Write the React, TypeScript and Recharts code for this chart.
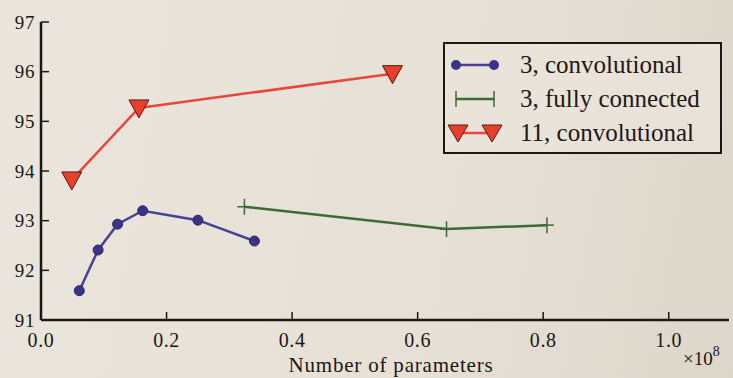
import React from "react";
import { LineChart, Line, XAxis, YAxis, Label } from "recharts";

// values (x in units of 1e8 parameters, y = test accuracy %)
const conv3X = [0.061, 0.091, 0.122, 0.162, 0.25, 0.34];
const conv3Y = [91.59, 92.41, 92.93, 93.2, 93.01, 92.59];
const fc3X = [0.324, 0.646, 0.806];
const fc3Y = [93.28, 92.83, 92.91];
const conv11X = [0.049, 0.156, 0.56];
const conv11Y = [93.82, 95.27, 95.96];

const xTicks = [0, 0.2, 0.4, 0.6, 0.8, 1.0];
const yTicks = [91, 92, 93, 94, 95, 96, 97];
const seriesNames = ["3, convolutional", "3, fully connected", "11, convolutional"];

const toPoints = (xs: number[], ys: number[]) => xs.map((x, i) => ({ x, y: ys[i] }));

const INK = "#1c1816";
const BLUE = "#4a4196";
const GREEN = "#3e6a3a";
const RED = "#e8473b";
const FONT = "'Liberation Serif', 'DejaVu Serif', serif";
const X_MAX = 1.096;

const Dot = (p: any) => (
  <circle key={p.key} cx={p.cx} cy={p.cy} r={5} fill="#3a3487" stroke="#2b276e" strokeWidth={1} />
);

const Plus = (p: any) => (
  <g key={p.key}>
    <line x1={p.cx} y1={p.cy - 8} x2={p.cx} y2={p.cy + 8} stroke={GREEN} strokeWidth={1.5} />
    <line x1={p.cx - 7} y1={p.cy} x2={p.cx + 7} y2={p.cy} stroke={GREEN} strokeWidth={1.5} />
  </g>
);

const Tri = (p: any) => (
  <polygon
    key={p.key}
    points={`${p.cx - 10},${p.cy - 8} ${p.cx + 10},${p.cy - 8} ${p.cx},${p.cy + 10}`}
    fill="#e6402c"
    stroke="#5a1a10"
    strokeWidth={1}
  />
);

function LegendBox() {
  const markers = [
    <g key="a">
      <line x1={4} y1={12} x2={42} y2={12} stroke={BLUE} strokeWidth={2.5} />
      <circle cx={4} cy={12} r={5} fill="#3a3487" />
      <circle cx={42} cy={12} r={5} fill="#3a3487" />
    </g>,
    <g key="b">
      <line x1={4} y1={12} x2={42} y2={12} stroke={GREEN} strokeWidth={2.5} />
      <line x1={4} y1={4} x2={4} y2={20} stroke={GREEN} strokeWidth={1.5} />
      <line x1={42} y1={4} x2={42} y2={20} stroke={GREEN} strokeWidth={1.5} />
    </g>,
    <g key="c">
      <line x1={6} y1={12} x2={40} y2={12} stroke={RED} strokeWidth={2.5} />
      <polygon points="-4,4 16,4 6,21" fill="#e6402c" stroke="#5a1a10" />
      <polygon points="30,4 50,4 40,21" fill="#e6402c" stroke="#5a1a10" />
    </g>,
  ];
  return (
    <div
      style={{
        position: "absolute",
        left: 443,
        top: 42,
        width: 279,
        height: 112,
        border: `2.5px solid ${INK}`,
        background: "rgba(233,227,217,0.92)",
        fontFamily: FONT,
        fontSize: 25,
        color: INK,
        paddingTop: 4,
        boxSizing: "border-box",
      }}
    >
      {seriesNames.map((n, i) => (
        <div key={n} style={{ display: "flex", alignItems: "center", height: 34 }}>
          <svg width={60} height={24} style={{ marginLeft: 7, overflow: "visible" }}>
            {markers[i]}
          </svg>
          <span style={{ marginLeft: 8 }}>{n}</span>
        </div>
      ))}
    </div>
  );
}

export default function App() {
  const tickStyle = { fill: INK, fontFamily: FONT, letterSpacing: 0.6 };
  return (
    <div
      style={{
        position: "absolute",
        left: 0,
        top: 0,
        width: 733,
        height: 378,
        overflow: "hidden",
        fontFamily: FONT,
        background: "linear-gradient(100deg, #ebe6dd 0%, #e6e0d6 60%, #ddd6cb 100%)",
      }}
    >
      <LineChart
        width={730}
        height={378}
        margin={{ top: 22, right: 1, bottom: 0, left: 0 }}
        style={{ fontFamily: FONT, overflow: "visible" }}
      >
        <XAxis
          dataKey="x"
          type="number"
          domain={[0, X_MAX]}
          ticks={xTicks}
          allowDataOverflow
          tickFormatter={(v: number) => v.toFixed(1)}
          height={58}
          tickSize={-8}
          tickMargin={21}
          tick={{ ...tickStyle, fontSize: 20 }}
          axisLine={{ stroke: INK, strokeWidth: 2.5 }}
          tickLine={{ stroke: INK, strokeWidth: 1.5 }}
        >
          <Label
            content={() => (
              <text
                x={391}
                y={372}
                textAnchor="middle"
                fill={INK}
                fontFamily={FONT}
                fontSize={21}
                letterSpacing={0.8}
              >
                Number of parameters
              </text>
            )}
          />
          <Label
            content={() => (
              <text x={683} y={365} fill={INK} fontFamily={FONT} fontSize={19}>
                ×10
                <tspan dy={-9} fontSize={14}>8</tspan>
              </text>
            )}
          />
        </XAxis>
        <XAxis
          xAxisId="top"
          orientation="top"
          type="number"
          domain={[0, X_MAX]}
          ticks={xTicks}
          height={0}
          tick={false}
          tickSize={-8}
          axisLine={{ stroke: INK, strokeWidth: 2.5 }}
          tickLine={{ stroke: INK, strokeWidth: 1.5 }}
        />
        <YAxis
          type="number"
          domain={[91, 97]}
          ticks={yTicks}
          width={41}
          tickSize={-8}
          tickMargin={14}
          tick={{ ...tickStyle, fontSize: 19 }}
          axisLine={{ stroke: INK, strokeWidth: 2.5 }}
          tickLine={{ stroke: INK, strokeWidth: 1.5 }}
        />
        <YAxis
          yAxisId="right"
          orientation="right"
          type="number"
          domain={[91, 97]}
          ticks={yTicks}
          width={0}
          tick={false}
          tickSize={-8}
          axisLine={{ stroke: INK, strokeWidth: 2.5 }}
          tickLine={{ stroke: INK, strokeWidth: 1.5 }}
        />
        <Line
          data={toPoints(conv3X, conv3Y)}
          dataKey="y"
          name={seriesNames[0]}
          stroke={BLUE}
          strokeWidth={2.5}
          dot={Dot}
          isAnimationActive={false}
        />
        <Line
          data={toPoints(fc3X, fc3Y)}
          dataKey="y"
          name={seriesNames[1]}
          stroke={GREEN}
          strokeWidth={2.5}
          dot={Plus}
          isAnimationActive={false}
        />
        <Line
          data={toPoints(conv11X, conv11Y)}
          dataKey="y"
          name={seriesNames[2]}
          stroke={RED}
          strokeWidth={2.5}
          dot={Tri}
          isAnimationActive={false}
        />
      </LineChart>
      <LegendBox />
    </div>
  );
}
